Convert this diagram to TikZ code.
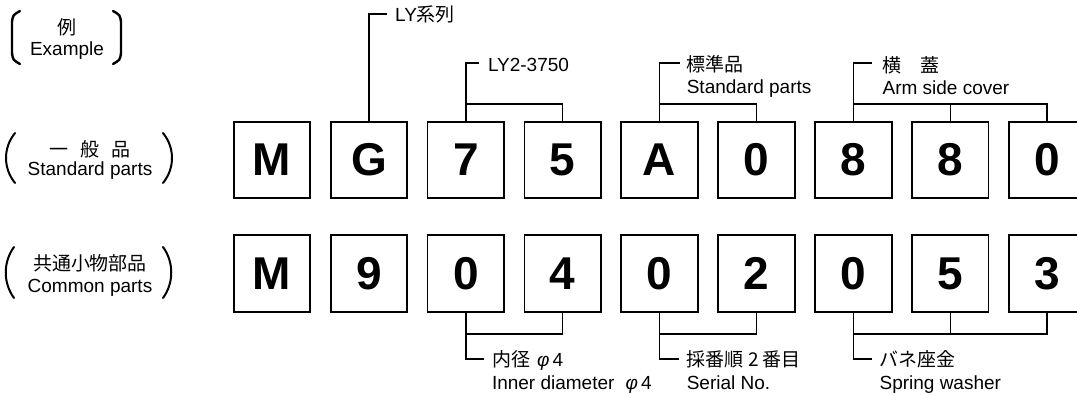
\documentclass[tikz,border=0pt]{standalone}
\usepackage{fontspec}
\setmainfont{Liberation Sans}
\newfontfamily\jp{Noto Sans CJK JP}
\tikzset{
  digit/.style={draw, line width=1.8pt, minimum width=76.5pt, minimum height=76.5pt, inner sep=0pt,
    font=\fontsize{46}{46}\selectfont\bfseries},
  lbl/.style={inner sep=0pt, anchor=west, text height=13.6pt, text depth=0pt,
    font=\fontsize{19}{19}\selectfont},
  clbl/.style={lbl, anchor=center},
  conn/.style={line width=1.5pt},
  brk/.style={line width=2.4pt, line cap=round},
  paren/.style={line width=2pt, line cap=round},
}
\begin{document}
\begin{tikzpicture}[x=1pt,y=-1pt]
\useasboundingbox (0,0) rectangle (1077,395);
\clip (0,0) rectangle (1077,395);

% level coordinates
\coordinate (yLY) at (0,14);
\coordinate (yTop) at (0,63);
\coordinate (yBr) at (0,104);
\coordinate (yBb) at (0,334);
\coordinate (yBot) at (0,359);

% boxes
\foreach \t [count=\i from 0] in {M,G,7,5,A,0,8,8,0}
  \node[digit] (t\i) at (272+96.9*\i,160) {\t};
\foreach \t [count=\i from 0] in {M,9,0,4,0,2,0,5,3}
  \node[digit] (b\i) at (272+96.9*\i,273.5) {\t};

% left labels
\draw[brk] (20,11) .. controls (13,15) .. (12,22) -- (12,53) .. controls (13,60) .. (20,64);
\draw[brk] (113,11) .. controls (120,15) .. (121,22) -- (121,53) .. controls (120,60) .. (113,64);
\node[clbl] (ex1) at (67,28) {\jp 例};
\node[clbl] (ex2) at (67,49) {Example};

\draw[paren] (15,133) .. controls (3,148) and (3,168) .. (15,183);
\draw[paren] (163,133) .. controls (175,148) and (175,168) .. (163,183);
\node[clbl] (sp1) at (90,150) {\jp 一\hspace{12pt}般\hspace{12pt}品};
\node[clbl] (sp2) at (90,169) {Standard parts};

\draw[paren] (14,247) .. controls (3,262) and (3,283) .. (14,298);
\draw[paren] (163,247) .. controls (174,262) and (174,283) .. (163,298);
\node[clbl] (cp1) at (90,264) {\jp 共通小物部品};
\node[clbl] (cp2) at (90,286) {Common parts};

% top connectors
\draw[conn] (t1.north) -- (t1.north |- yLY) -- ++(18,0) coordinate (e1);
\node[lbl] (l1) at ([xshift=8pt,yshift=-1pt]e1) {LY{\jp 系列}};

\draw[conn] (t2.north) -- (t2.north |- yBr) -| (t3.north);
\draw[conn] (t2.north |- yBr) -- (t2.north |- yTop) -- ++(13,0) coordinate (e2);
\node[lbl] (l2) at ([xshift=9pt,yshift=-2pt]e2) {LY2-3750};

\draw[conn] (t4.north) -- (t4.north |- yBr) -| (t5.north);
\draw[conn] (t4.north |- yBr) -- (t4.north |- yTop) -- ++(20,0) coordinate (e3);
\node[lbl] (l3) at ([xshift=7pt,yshift=-2pt]e3) {\jp 標準品};
\node[lbl] (l3b) at ([yshift=-22pt]l3.west) {Standard parts};

\draw[conn] (t6.north) -- (t6.north |- yBr) -| (t8.north);
\draw[conn] (t7.north) -- (t7.north |- yBr);
\draw[conn] (t6.north |- yBr) -- (t6.north |- yTop) -- ++(19,0) coordinate (e4);
\node[lbl] (l4) at ([xshift=10pt,yshift=-3pt]e4) {\jp 横\hspace{19pt}蓋};
\node[lbl] (l4b) at ([yshift=-22pt]l4.west) {Arm side cover};

% bottom connectors
\draw[conn] (b2.south) -- (b2.south |- yBb) -| (b3.south);
\draw[conn] (b2.south |- yBb) -- (b2.south |- yBot) -- ++(18,0) coordinate (f1);
\node[lbl] (m1) at ([xshift=8pt,yshift=-1pt]f1) {{\jp 内径}\hspace{7pt}{\itshape φ}\,4};
\node[lbl] (m1b) at ([yshift=-23pt]m1.west) {Inner diameter\hspace{11pt}{\itshape φ}\,4};

\draw[conn] (b4.south) -- (b4.south |- yBb) -| (b5.south);
\draw[conn] (b4.south |- yBb) -- (b4.south |- yBot) -- ++(19,0) coordinate (f2);
\node[lbl] (m2) at ([xshift=8pt,yshift=-1pt]f2) {\jp 採番順 2 番目};
\node[lbl] (m2b) at ([yshift=-23pt]m2.west) {Serial No.};

\draw[conn] (b6.south) -- (b6.south |- yBb) -| (b8.south);
\draw[conn] (b7.south) -- (b7.south |- yBb);
\draw[conn] (b6.south |- yBb) -- (b6.south |- yBot) -- ++(19,0) coordinate (f3);
\node[lbl] (m3) at ([xshift=7pt,yshift=-1pt]f3) {\jp バネ座金};
\node[lbl] (m3b) at ([yshift=-23pt]m3.west) {Spring washer};
\end{tikzpicture}
\end{document}
